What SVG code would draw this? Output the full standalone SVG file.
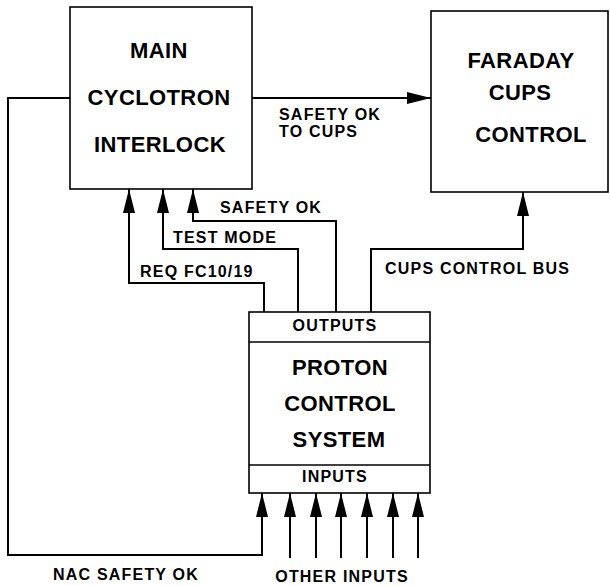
<svg xmlns="http://www.w3.org/2000/svg" width="610" height="586" viewBox="0 0 610 586">
<style>
.box{fill:#fff;stroke:#000;stroke-width:1.6}
.div{stroke:#000;stroke-width:1.6;fill:none}
.big{font-family:"Liberation Sans",Arial,sans-serif;font-weight:bold;font-size:22px;letter-spacing:0.4px;text-anchor:middle;fill:#000}
.sm{font-family:"Liberation Sans",Arial,sans-serif;font-weight:bold;font-size:16px;letter-spacing:1.2px;fill:#000}
.mid{text-anchor:middle}
.wire{fill:none;stroke:#000;stroke-width:2}
</style>
<defs>
<marker id="ah" viewBox="0 0 24 12" refX="24" refY="6" markerWidth="24" markerHeight="12" markerUnits="userSpaceOnUse" orient="auto">
<path d="M0,0 L24,6 L0,12 Z" fill="#000"/>
</marker>
</defs>
<rect width="610" height="586" fill="#fff"/>
<g id="main">
<rect class="box" x="70" y="7" width="182" height="182"/>
<text class="big" x="159" y="58">MAIN</text>
<text class="big" x="159" y="105">CYCLOTRON</text>
<text class="big" x="160" y="152">INTERLOCK</text>
</g>
<g id="faraday">
<rect class="box" x="431" y="11" width="177" height="181"/>
<text class="big" x="521" y="68">FARADAY</text>
<text class="big" x="520" y="100">CUPS</text>
<text class="big" x="531" y="142">CONTROL</text>
</g>
<g id="pcs">
<rect class="box" x="249" y="312" width="181" height="181"/>
<line class="div" x1="249" y1="342" x2="430" y2="342"/>
<line class="div" x1="249" y1="465" x2="430" y2="465"/>
<text class="sm mid" x="335" y="331">OUTPUTS</text>
<text class="big" x="340" y="375">PROTON</text>
<text class="big" x="340" y="411">CONTROL</text>
<text class="big" x="339" y="447">SYSTEM</text>
<text class="sm mid" x="335" y="482">INPUTS</text>
</g>
<g id="connectors">
<path class="wire" d="M252,98 H431" marker-end="url(#ah)"/>
<path class="wire" d="M264,312 V283 H129 V189" marker-end="url(#ah)"/>
<path class="wire" d="M298,312 V249 H163 V189" marker-end="url(#ah)"/>
<path class="wire" d="M336,312 V221 H193 V189" marker-end="url(#ah)"/>
<path class="wire" d="M371,312 V249 H523 V192" marker-end="url(#ah)"/>
<path class="wire" d="M70,98 H8 V555 H262 V493" marker-end="url(#ah)"/>
<path class="wire" d="M290,558 V493" marker-end="url(#ah)"/>
<path class="wire" d="M316,558 V493" marker-end="url(#ah)"/>
<path class="wire" d="M341,558 V493" marker-end="url(#ah)"/>
<path class="wire" d="M367,558 V493" marker-end="url(#ah)"/>
<path class="wire" d="M393,558 V493" marker-end="url(#ah)"/>
<path class="wire" d="M418,558 V493" marker-end="url(#ah)"/>
</g>
<g id="labels">
<text class="sm" x="279" y="120">SAFETY OK</text>
<text class="sm" x="279" y="137">TO CUPS</text>
<text class="sm" x="220" y="213">SAFETY OK</text>
<text class="sm" x="173" y="243">TEST MODE</text>
<text class="sm" x="140" y="277">REQ FC10/19</text>
<text class="sm" x="385" y="274">CUPS CONTROL BUS</text>
<text class="sm" x="53" y="580">NAC SAFETY OK</text>
<text class="sm mid" x="342" y="582">OTHER INPUTS</text>
</g>
</svg>
